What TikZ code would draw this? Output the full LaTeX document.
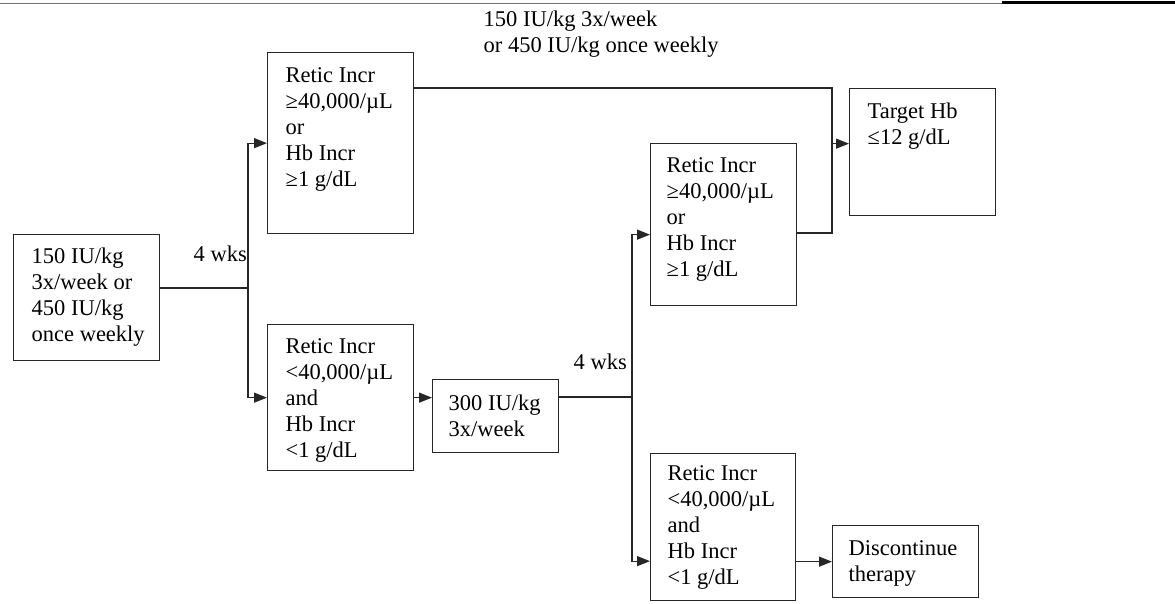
\documentclass[tikz,border=0pt]{standalone}
\usepackage{fontspec}
\setmainfont{Liberation Serif}
\usetikzlibrary{arrows.meta}
\begin{document}
\begin{tikzpicture}[x=1pt, y=-1pt, line width=1.3pt, draw=black!85,
  box/.style = {draw, anchor=north west, inner sep=0pt},
  txt/.style = {anchor=north west, align=left, inner sep=0pt,
    font=\fontsize{22.5}{26}\selectfont},
  arr/.style = {-{Triangle[length=13pt,width=10pt]}}]
  \useasboundingbox (0,0) rectangle (1175,603);
  % rule at the top
  \draw[line width=1pt, black!55] (0,3) -- (1002,3);
  \draw[line width=3pt, black] (1002,2.5) -- (1175,2.5);
  % boxes
  \node[box, minimum width=146pt, minimum height=126pt] (start) at (13,234) {};
  \node[box, minimum width=146pt, minimum height=181pt] (retA) at (267,52) {};
  \node[box, minimum width=146pt, minimum height=146pt] (retB) at (267,324) {};
  \node[box, minimum width=126pt, minimum height=73pt] (dose) at (432,379) {};
  \node[box, minimum width=146pt, minimum height=162pt] (retC) at (650,143) {};
  \node[box, minimum width=145pt, minimum height=147pt] (retD) at (650,453) {};
  \node[box, minimum width=146pt, minimum height=127pt] (target) at (849,88) {};
  \node[box, minimum width=146pt, minimum height=72pt] (stop) at (832,525) {};
  % texts
  \node[txt] (startT) at (31,247) {150 IU/kg\\3x/week or\\450 IU/kg\\once weekly};
  \node[txt] (retAT) at (285,67) {Retic Incr\\≥40,000/µL\\or\\Hb Incr\\≥1 g/dL};
  \node[txt] (retBT) at (285,338) {Retic Incr\\<40,000/µL\\and\\Hb Incr\\<1 g/dL};
  \node[txt] (doseT) at (448,394) {300 IU/kg\\3x/week};
  \node[txt] (retCT) at (666,157) {Retic Incr\\≥40,000/µL\\or\\Hb Incr\\≥1 g/dL};
  \node[txt] (retDT) at (667,465) {Retic Incr\\<40,000/µL\\and\\Hb Incr\\<1 g/dL};
  \node[txt] (targetT) at (867,102) {Target Hb\\≤12 g/dL};
  \node[txt] (stopT) at (848,540) {Discontinue\\therapy};
  \node[txt] (topT) at (483,10) {150 IU/kg 3x/week\\or 450 IU/kg once weekly};
  \node[txt] (wk1) at (193,245) {4 wks};
  \node[txt] (wk2) at (573,353) {4 wks};
  % connectors
  \coordinate (fork1) at (248,288);
  \coordinate (fork2) at (632,397);
  \coordinate (join) at (832,233);
  \coordinate (inC) at ([yshift=-10pt]retC.west);
  \coordinate (inD) at ([yshift=-34pt]retD.west);
  \coordinate (outA) at ([yshift=-36pt]retA.north east);
  \coordinate (inT) at ([yshift=8.5pt]target.west);
  \draw (start.east |- fork1) -- (fork1);
  \draw[arr] (fork1) |- (retA.west);
  \draw[arr] (fork1) |- (retB.west);
  \draw[arr] (retB.east) -- (retB.east -| dose.west);
  \draw (dose.east |- fork2) -- (fork2);
  \draw[arr] (fork2) |- (inC);
  \draw[arr] (fork2) |- (inD);
  \draw[arr] (retD.east |- stop.west) -- (stop.west);
  \draw (outA) -| (join) -- (join -| retC.east);
  \draw[arr] (inT -| join) -- (inT);
\end{tikzpicture}
\end{document}
